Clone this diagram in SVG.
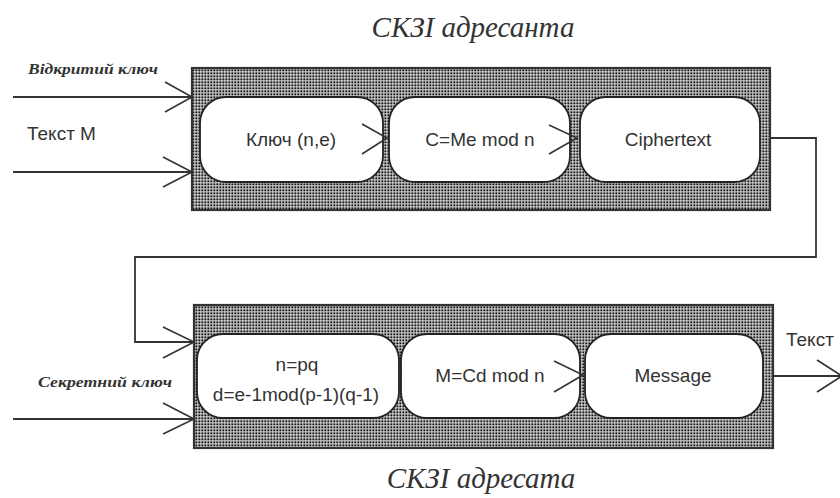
<svg xmlns="http://www.w3.org/2000/svg" width="840" height="498" viewBox="0 0 840 498">
  <defs>
    <!-- dotted fill of the two crypto blocks -->
    <pattern id="dots" width="3" height="3" patternUnits="userSpaceOnUse">
      <rect width="3" height="3" fill="#d6d6d6"/>
      <rect x="0.4" y="0.4" width="1.9" height="1.9" fill="#111"/>
    </pattern>
  </defs>
  <style>
    .block { fill: url(#dots); stroke: #333; stroke-width: 2.2; }
    .node { fill: #fff; stroke: #222; stroke-width: 1.8; }
    .lbl { font-family: "Liberation Sans", Arial, sans-serif; font-size: 19px; fill: #333; text-anchor: middle; }
    .side { font-family: "Liberation Sans", Arial, sans-serif; font-size: 19px; fill: #333; }
    .key { font-family: "Liberation Serif", "Times New Roman", serif; font-size: 14px; font-weight: bold; font-style: italic; fill: #333; }
    .title { font-family: "Liberation Serif", "Times New Roman", serif; font-size: 29px; font-style: italic; fill: #333; text-anchor: middle; }
    .wire { fill: none; stroke: #333; stroke-width: 1.8; }
    .head { fill: none; stroke: #333; stroke-width: 1.6; }
  </style>

  <!-- sender block -->
  <g id="sender">
    <rect class="block" x="192" y="68" width="578" height="142"/>
    <text class="title" x="473" y="37">СКЗІ адресанта</text>
  </g>
  <g id="key-ne">
    <rect class="node" x="200" y="97" width="183" height="85" rx="26"/>
    <text class="lbl" x="291" y="146">Ключ (n,e)</text>
  </g>
  <g id="encrypt">
    <rect class="node" x="389" y="97" width="181" height="85" rx="26"/>
    <text class="lbl" x="480" y="146">C=Me mod n</text>
  </g>
  <g id="ciphertext">
    <rect class="node" x="580" y="97" width="180" height="85" rx="26"/>
    <text class="lbl" x="668" y="146">Ciphertext</text>
  </g>

  <!-- receiver block -->
  <g id="receiver">
    <rect class="block" x="194" y="305" width="579" height="143"/>
    <text class="title" x="481" y="488">СКЗІ адресата</text>
  </g>
  <g id="key-d">
    <rect class="node" x="197" y="334" width="202" height="84" rx="26"/>
    <text class="lbl" x="297" y="371">n=pq</text>
    <text class="lbl" x="296" y="401">d=e-1mod(p-1)(q-1)</text>
  </g>
  <g id="decrypt">
    <rect class="node" x="401" y="334" width="179" height="84" rx="26"/>
    <text class="lbl" x="490" y="382">M=Cd mod n</text>
  </g>
  <g id="message">
    <rect class="node" x="585" y="334" width="178" height="84" rx="26"/>
    <text class="lbl" x="673" y="382">Message</text>
  </g>

  <!-- inputs and outputs labels -->
  <g id="labels">
    <text class="key" x="28" y="74" textLength="130" lengthAdjust="spacingAndGlyphs">Відкритий ключ</text>
    <text class="side" x="27" y="140">Текст М</text>
    <text class="key" x="38" y="387" textLength="134" lengthAdjust="spacingAndGlyphs">Секретний ключ</text>
    <text class="side" x="786" y="346">Текст</text>
  </g>

  <!-- connectors -->
  <g id="connectors">
    <!-- public key in -->
    <line class="wire" x1="13" y1="97" x2="192" y2="97"/>
    <polyline class="head" points="165,82 192,97 165,112"/>
    <!-- plaintext in -->
    <line class="wire" x1="13" y1="172" x2="192" y2="172"/>
    <polyline class="head" points="163,157 192,172 163,187"/>
    <!-- internal steps of sender -->
    <polyline class="head" points="362,124 387,138 362,154"/>
    <polyline class="head" points="549,125 577,138 549,154"/>
    <!-- ciphertext to receiver -->
    <polyline class="wire" points="770,138 816,138 816,257 135,257 135,342 194,342"/>
    <polyline class="head" points="163,327 194,342 163,358"/>
    <!-- secret key in -->
    <line class="wire" x1="13" y1="419" x2="194" y2="419"/>
    <polyline class="head" points="163,403 194,419 163,434"/>
    <!-- internal step of receiver -->
    <polyline class="head" points="554,361 583,375 554,392"/>
    <!-- plaintext out -->
    <line class="wire" x1="773" y1="376" x2="842" y2="376"/>
    <polyline class="head" points="817,360 842,376 817,392"/>
  </g>
</svg>
